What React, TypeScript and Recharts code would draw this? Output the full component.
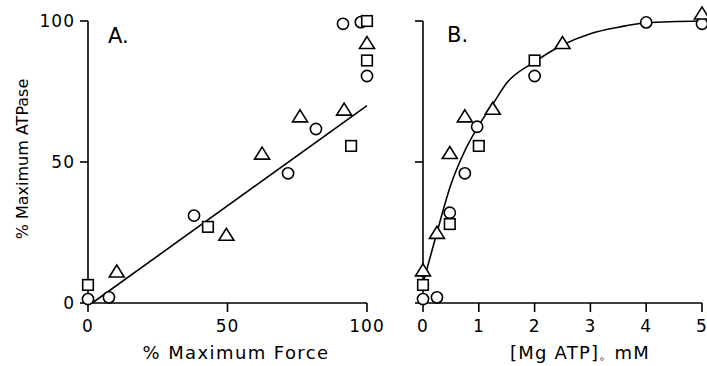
import React from 'react';
import { ScatterChart, Scatter, XAxis, YAxis, ReferenceDot } from 'recharts';

// Panel A: % maximum ATPase vs % maximum force
const forceCircles = [
  { x: 0, y: 1.4 }, { x: 7.5, y: 2 }, { x: 38, y: 31 }, { x: 71.7, y: 46 },
  { x: 81.7, y: 61.7 }, { x: 91.4, y: 99 }, { x: 97.8, y: 99.6 }, { x: 100, y: 80.5 },
];
const forceSquares = [
  { x: 0, y: 6.4 }, { x: 43, y: 27 }, { x: 94.3, y: 55.7 }, { x: 100, y: 86 }, { x: 100, y: 100 },
];
const forceTriangles = [
  { x: 10.3, y: 11 }, { x: 49.6, y: 24 }, { x: 62.4, y: 52.8 }, { x: 76, y: 66 },
  { x: 91.8, y: 68.4 }, { x: 100, y: 92 },
];
const forceFit = [{ x: 1.5, y: 0 }, { x: 100, y: 70 }];

// Panel B: % maximum ATPase vs [MgATP], mM
const mgCircles = [
  { x: 0, y: 1.4 }, { x: 0.25, y: 2 }, { x: 0.48, y: 32 }, { x: 0.75, y: 46 },
  { x: 0.97, y: 62.5 }, { x: 2, y: 80.5 }, { x: 4, y: 99.5 }, { x: 5, y: 99 },
];
const mgSquares = [
  { x: 0, y: 6.4 }, { x: 0.48, y: 28 }, { x: 1, y: 55.7 }, { x: 2, y: 86 },
];
const mgTriangles = [
  { x: 0, y: 11.4 }, { x: 0.25, y: 24.7 }, { x: 0.48, y: 53 }, { x: 0.75, y: 66 },
  { x: 1.25, y: 68.7 }, { x: 2.5, y: 92 }, { x: 5, y: 102.5 },
];
const mgFit = [
  { x: 0, y: 7 }, { x: 0.25, y: 25 }, { x: 0.5, y: 42 }, { x: 0.75, y: 54 },
  { x: 1, y: 63 }, { x: 1.25, y: 70.5 }, { x: 1.5, y: 78 }, { x: 2, y: 85.5 },
  { x: 2.5, y: 91.5 }, { x: 3, y: 95.5 }, { x: 3.5, y: 97.8 }, { x: 4, y: 99.4 }, { x: 5, y: 100 },
];

const forceTicks = [0, 50, 100];
const mgTicks = [0, 1, 2, 3, 4, 5];
const pctTicks = [0, 50, 100];

const FONT = '"DejaVu Sans", sans-serif';
const INK = '#000';

const CircleMark = (p: any) => (
  <circle cx={p.cx} cy={p.cy} r={5.6} fill="#fff" stroke={INK} strokeWidth={1.6} />
);
const SquareMark = (p: any) => (
  <rect x={p.cx - 5.3} y={p.cy - 5.3} width={10.6} height={10.6} fill="#fff" stroke={INK} strokeWidth={1.6} />
);
const TriangleMark = (p: any) => (
  <path
    d={`M${p.cx},${p.cy - 7} L${p.cx + 7.5},${p.cy + 5} L${p.cx - 7.5},${p.cy + 5} Z`}
    fill="#fff"
    stroke={INK}
    strokeWidth={1.6}
  />
);
const NoMark = () => <g />;

const axisStroke = { stroke: INK, strokeWidth: 1.6 };
const tickStyle = { fill: INK, fontSize: 17, fontFamily: FONT, letterSpacing: 1 };

// points above 100% are drawn as overflow dots so the axis stays at 0-100
const inRange = (pts: { x: number; y: number }[]) => pts.filter((p) => p.y <= 100);
const overRange = (pts: { x: number; y: number }[]) => pts.filter((p) => p.y > 100);

export default function App() {
  return (
    <div style={{ position: 'absolute', left: 0, top: 0, width: 707, height: 366, background: '#fff' }}>
      <div style={{ position: 'absolute', left: 0, top: 0 }}>
        <ScatterChart width={390} height={366} margin={{ top: 21, right: 23, left: 0, bottom: 0 }} style={{ overflow: 'visible' }}>
          <XAxis
            type="number"
            dataKey="x"
            domain={[0, 100]}
            ticks={forceTicks}
            height={63}
            tickSize={9}
            tickMargin={8}
            axisLine={axisStroke}
            tickLine={axisStroke}
            tick={tickStyle}
          />
          <YAxis
            type="number"
            dataKey="y"
            domain={[0, 100]}
            ticks={pctTicks}
            width={88}
            tickSize={8}
            tickMargin={5}
            axisLine={axisStroke}
            tickLine={axisStroke}
            tick={tickStyle}
          />
          <Scatter data={forceFit} line={{ stroke: INK, strokeWidth: 1.6 }} shape={NoMark} isAnimationActive={false} />
          <Scatter data={forceCircles} shape={CircleMark} isAnimationActive={false} />
          <Scatter data={forceSquares} shape={SquareMark} isAnimationActive={false} />
          <Scatter data={forceTriangles} shape={TriangleMark} isAnimationActive={false} />
        </ScatterChart>
      </div>
      <div style={{ position: 'absolute', left: 390, top: 0 }}>
        <ScatterChart width={317} height={366} margin={{ top: 21, right: 5, left: 0, bottom: 0 }} style={{ overflow: 'visible' }}>
          <XAxis
            type="number"
            dataKey="x"
            domain={[0, 5]}
            ticks={mgTicks}
            height={63}
            tickSize={9}
            tickMargin={8}
            axisLine={axisStroke}
            tickLine={axisStroke}
            tick={tickStyle}
          />
          <YAxis
            type="number"
            dataKey="y"
            domain={[0, 100]}
            ticks={pctTicks}
            width={33}
            tickSize={8}
            axisLine={axisStroke}
            tickLine={axisStroke}
            tick={tickStyle}
            tickFormatter={() => ''}
          />
          <Scatter
            data={mgFit}
            line={{ stroke: INK, strokeWidth: 1.6 }}
            lineJointType="monotoneX"
            shape={NoMark}
            isAnimationActive={false}
          />
          <Scatter data={mgCircles} shape={CircleMark} isAnimationActive={false} />
          <Scatter data={mgSquares} shape={SquareMark} isAnimationActive={false} />
          <Scatter data={inRange(mgTriangles)} shape={TriangleMark} isAnimationActive={false} />
          {overRange(mgTriangles).map((p, i) => (
            <ReferenceDot key={i} x={p.x} y={p.y} ifOverflow="visible" shape={TriangleMark} />
          ))}
        </ScatterChart>
      </div>
      <svg width={707} height={366} style={{ position: 'absolute', left: 0, top: 0, pointerEvents: 'none' }}>
        <text x={108} y={43} fontSize={21} fontFamily={FONT} fill={INK}>A.</text>
        <text x={447} y={42} fontSize={21} fontFamily={FONT} fill={INK}>B.</text>
        <text x={236} y={359} fontSize={18} fontFamily={FONT} fill={INK} textAnchor="middle" letterSpacing={1.4}>
          % Maximum Force
        </text>
        <text x={580} y={359} fontSize={18} fontFamily={FONT} fill={INK} textAnchor="middle" letterSpacing={1.2}>
          [Mg ATP]<tspan fontSize={14}>。</tspan>mM
        </text>
        <text
          x={22}
          y={159}
          fontSize={16}
          fontFamily={FONT}
          fill={INK}
          textAnchor="middle"
          dominantBaseline="central"
          transform="rotate(-90 22 159)"
        >
          % Maximum ATPase
        </text>
      </svg>
    </div>
  );
}
